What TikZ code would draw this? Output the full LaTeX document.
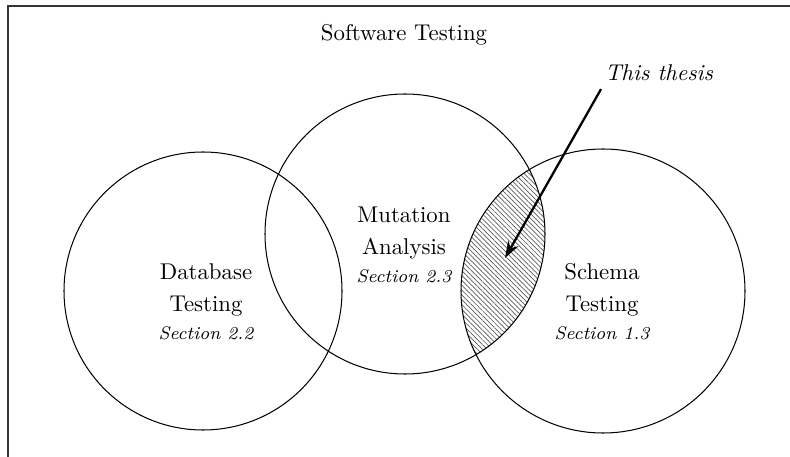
\documentclass[tikz,border=0pt]{standalone}
\usepackage{tikz}
\usetikzlibrary{arrows.meta,positioning,patterns.meta}

\begin{document}
\begin{tikzpicture}[
  x=0.4386pt,y=-0.4386pt,
  area/.style={draw,line width=0.45pt},
  lbl/.style={align=center,font=\normalsize},
  sec/.style={font=\footnotesize\itshape},
  hatch/.style={pattern={Lines[angle=-45,distance=1.5pt,line width=0.3pt]},pattern color=black!65},
  arr/.style={-{Stealth[length=2.6mm,width=1.8mm]},line width=1pt}
]
\useasboundingbox (0,0) rectangle (790,457);

% Outer frame (software testing)
\draw[line width=0.6pt,black!80] (8,6) rectangle (900,600);
\node[lbl] (sw) at (404,35) {Software Testing};

% Circle centres
\coordinate (db) at (203,291);
\coordinate (ma) at (405,234);
\coordinate (st) at (603,291);

% Hatched overlap of mutation analysis and schema testing
\begin{scope}
  \clip (ma) circle[radius=140];
  \fill[hatch] (st) circle[radius=142];
\end{scope}

% Circles
\draw[area] (db) circle[radius=139];
\draw[area] (ma) circle[radius=140];
\draw[area] (st) circle[radius=142];

% Labels
\node[lbl] (dbt) at (206,290) {Database\\[2pt]Testing};
\node[sec] (dbs) at (206,333) {Section 2.2};
\node[lbl] (mat) at (404,233) {Mutation\\[2pt]Analysis};
\node[sec] (mas) at (404,276) {Section 2.3};
\node[lbl] (stt) at (602,290) {Schema\\[2pt]Testing};
\node[sec] (sts) at (602,333) {Section 1.3};

% This thesis
\node[font=\itshape] (th) at (659,73) {This thesis};
\coordinate (tip) at (505,258);
\draw[arr] (th.south west) ++(4,0) coordinate (tail) -- (tip);

\end{tikzpicture}
\end{document}
